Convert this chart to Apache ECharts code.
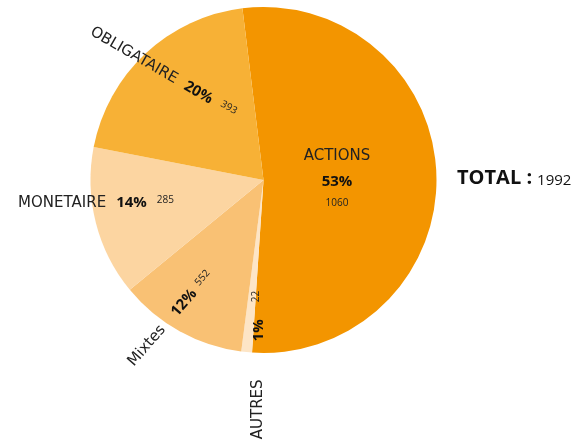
<!DOCTYPE html>
<html>
<head>
<meta charset="utf-8">
<script src="https://cdn.jsdelivr.net/npm/echarts@6/dist/echarts.min.js"></script>
<style>
  html, body { margin: 0; padding: 0; background: #ffffff; }
  #chart { width: 577px; height: 441px; }
</style>
</head>
<body>
<div id="chart"></div>
<script>
// Fund categories, their share of the total (%) and their number of funds
const categories = ['ACTIONS', 'AUTRES', 'Mixtes', 'MONETAIRE', 'OBLIGATAIRE'];
const shares = [53, 1, 12, 14, 20];
const counts = [1060, 22, 552, 285, 393];
const total = 1992;

// Styling
const colors = ['#F39500', '#FDE5C6', '#F9C174', '#FCD5A1', '#F7B136'];
const center = [263.5, 180];
const radius = 173;
const startAngle = 97;

// Per-slice label placement: rotation, gaps between name / percent / count,
// angular shift from the slice middle (deg) and distance from centre (fraction of radius)
const labelPlacement = [
  { rotate: 0, stacked: true, shift: -0.7, r: 0.425 },
  { rotate: 90, gaps: [38, 17], shift: -4, r: 1.07 },
  { rotate: 49, gaps: [17, 7], shift: 4.9, r: 0.965 },
  { rotate: 0, gaps: [10, 10], shift: 6.4, r: 0.977 },
  { rotate: -30, gaps: [10, 10], shift: 0, r: 0.85 }
];

// Middle angle of each slice, clockwise from 12 o'clock
const shareSum = shares.reduce((a, b) => a + b, 0);
const midAngles = [];
let acc = 0;
shares.forEach((s) => {
  midAngles.push((90 - startAngle) + 360 * (acc + s / 2) / shareSum);
  acc += s;
});

const nameFont = 'DejaVu Sans';
const numFont = 'Open Sans';

const data = categories.map((name, i) => {
  const p = labelPlacement[i];
  let formatter, rich;
  if (p.stacked) {
    formatter = '{n|' + name + '}\n{p|' + shares[i] + '%}\n{v|' + counts[i] + '}';
    rich = {
      n: { fontFamily: nameFont, fontSize: 15, color: '#222222', lineHeight: 28 },
      p: { fontFamily: numFont, fontSize: 15, fontWeight: 'bold', color: '#111111', lineHeight: 24 },
      v: { fontFamily: numFont, fontSize: 10, color: '#222222', lineHeight: 18 }
    };
  } else {
    formatter = '{n|' + name + '}{p|' + shares[i] + '%}{v|' + counts[i] + '}';
    rich = {
      n: { fontFamily: nameFont, fontSize: 15, color: '#222222', padding: [0, p.gaps[0], 0, 0] },
      p: { fontFamily: numFont, fontSize: 15, fontWeight: 'bold', color: '#111111', padding: [0, p.gaps[1], 0, 0] },
      v: { fontFamily: numFont, fontSize: 10, color: '#222222', verticalAlign: 'top' }
    };
  }
  return {
    name: name,
    value: shares[i],
    itemStyle: { color: colors[i] },
    label: { rotate: p.rotate, formatter: formatter, rich: rich }
  };
});

const chart = echarts.init(document.getElementById('chart'), null, { renderer: 'canvas' });
chart.setOption({
  animation: false,
  backgroundColor: '#ffffff',
  title: {
    text: '{t|TOTAL :}{n|' + total + '}',
    left: 457,
    top: 168,
    padding: 0,
    textStyle: {
      rich: {
        t: { fontFamily: numFont, fontSize: 20, fontWeight: 'bold', color: '#111111', padding: [0, 5, 0, 0], verticalAlign: 'bottom' },
        n: { fontFamily: numFont, fontSize: 15, fontWeight: 'normal', color: '#111111', verticalAlign: 'bottom' }
      }
    }
  },
  series: [{
    type: 'pie',
    center: center,
    radius: radius,
    startAngle: startAngle,
    clockwise: true,
    minShowLabelAngle: 0,
    avoidLabelOverlap: false,
    label: { show: true, position: 'inside' },
    labelLine: { show: false },
    emphasis: { disabled: true },
    labelLayout: function (params) {
      const i = params.dataIndex;
      const p = labelPlacement[i];
      const a = (midAngles[i] + p.shift) * Math.PI / 180;
      return {
        x: center[0] + radius * p.r * Math.sin(a),
        y: center[1] - radius * p.r * Math.cos(a),
        align: 'center',
        verticalAlign: 'middle'
      };
    },
    data: data
  }]
});
</script>
</body>
</html>
